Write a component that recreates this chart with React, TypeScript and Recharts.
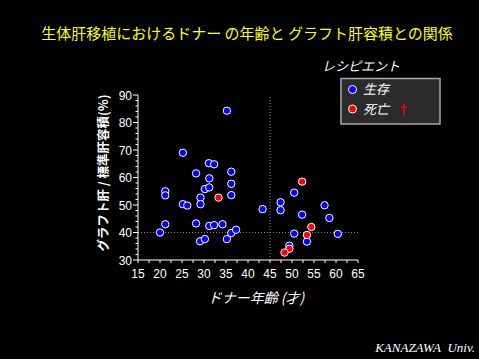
import React from 'react';
import { ScatterChart, Scatter, XAxis, YAxis, ReferenceLine } from 'recharts';

const aliveAge = [20.0, 21.2, 21.2, 21.2, 25.2, 25.2, 26.2, 28.2, 28.2, 29.2, 29.2, 29.1, 30.2, 30.2, 31.2, 31.2, 31.1, 32.3, 31.2, 32.3, 34.2, 35.2, 35.2, 36.2, 36.2, 36.2, 36.2, 37.3, 43.3, 47.4, 47.4, 50.5, 52.3, 57.4, 58.5, 50.5, 53.4, 49.4, 60.4];
const aliveVol = [40.0, 55.0, 53.5, 43.0, 69.0, 50.3, 49.8, 61.5, 43.3, 52.7, 50.3, 36.8, 37.6, 55.8, 56.4, 59.7, 65.2, 64.8, 42.4, 42.7, 43.0, 84.3, 37.6, 62.1, 57.7, 53.6, 39.8, 41.0, 48.5, 51.0, 48.1, 54.5, 46.5, 49.9, 45.3, 39.6, 36.7, 35.2, 39.5];
const deadAge = [33.3, 52.3, 54.4, 53.4, 49.4, 48.3];
const deadVol = [52.7, 58.5, 42.0, 39.1, 34.1, 32.7];

const xTicks = [15, 17.5, 20, 22.5, 25, 27.5, 30, 32.5, 35, 37.5, 40, 42.5, 45, 47.5, 50, 52.5, 55, 57.5, 60, 62.5, 65];
const yTicks = [30, 32, 34, 36, 38, 40, 42, 44, 46, 48, 50, 52, 54, 56, 58, 60, 62, 64, 66, 68, 70, 72, 74, 76, 78, 80, 82, 84, 86, 88, 90];
const xMajor = [15, 20, 25, 30, 35, 40, 45, 50, 55, 60, 65];
const yMajor = [30, 40, 50, 60, 70, 80, 90];

const title = '生体肝移植におけるドナー の年齢と グラフト肝容積との関係';
const xTitle = 'ドナー年齢 (才)';
const yTitle = 'グラフト肝 / 標準肝容積(%)';
const legendTitle = 'レシピエント';
const legendAlive = '生存';
const legendDead = '死亡';
const credit = 'KANAZAWA\u00A0\u00A0Univ.';

const aliveData = aliveAge.map((x, i) => ({ x, y: aliveVol[i] }));
const deadData = deadAge.map((x, i) => ({ x, y: deadVol[i] }));

const tickFont = '"Liberation Sans", Arial, sans-serif';
const jpFont = '"Noto Sans CJK JP", sans-serif';

const XTick = (props: any) => {
  const { x, y, payload } = props;
  const v = payload.value;
  const major = xMajor.includes(v);
  return (
    <g>
      <line x1={x} x2={x} y1={y} y2={y + 3} stroke="#fff" strokeWidth={1} />
      {major && (
        <text x={x} y={y + 18} textAnchor="middle" fill="#fff" fontSize={12} fontFamily={tickFont}>
          {v}
        </text>
      )}
    </g>
  );
};

const YTick = (props: any) => {
  const { x, y, payload } = props;
  const v = payload.value;
  const major = yMajor.includes(v);
  return (
    <g>
      <line x1={x - (major ? 5 : 2.5)} x2={x} y1={y} y2={y} stroke="#fff" strokeWidth={1} />
      {major && (
        <text x={x - 6} y={y + 4.5} textAnchor="end" fill="#fff" fontSize={12} fontFamily={tickFont}>
          {v}
        </text>
      )}
    </g>
  );
};

const dot = (color: string) => (props: any) => (
  <circle cx={props.cx} cy={props.cy} r={3.7} fill={color} stroke="#fff" strokeWidth={1} />
);

export default function App() {
  return (
    <div style={{ position: 'fixed', left: 0, top: 0, width: 479, height: 359, background: '#000', overflow: 'hidden' }}>
      <ScatterChart width={479} height={359} margin={{ top: 95, right: 121, bottom: 59, left: 98 }}>
        <XAxis
          type="number"
          dataKey="x"
          domain={[15, 65]}
          ticks={xTicks}
          interval={0}
          height={40}
          tickSize={0}
          tickMargin={0}
          tickLine={false}
          axisLine={{ stroke: '#fff', strokeWidth: 1 }}
          tick={<XTick />}
          allowDataOverflow
        />
        <YAxis
          type="number"
          dataKey="y"
          domain={[30, 90]}
          ticks={yTicks}
          interval={0}
          width={40}
          tickSize={0}
          tickMargin={0}
          tickLine={false}
          axisLine={{ stroke: '#fff', strokeWidth: 1 }}
          tick={<YTick />}
          allowDataOverflow
        />
        <ReferenceLine x={45} stroke="#8a8a8a" strokeDasharray="1 2" />
        <ReferenceLine y={40} stroke="#8a8a8a" strokeDasharray="1 2" />
        <Scatter data={aliveData} isAnimationActive={false} shape={dot('#0000ff')} />
        <Scatter data={deadData} isAnimationActive={false} shape={dot('#ff0000')} />
      </ScatterChart>
      <svg width={479} height={359} style={{ position: 'absolute', left: 0, top: 0, pointerEvents: 'none' }}>
        <text x={247} y={38.5} textAnchor="middle" fill="#ffff00" fontSize={15} fontFamily={jpFont}>
          {title}
        </text>
        <text x={361} y={71} textAnchor="middle" fill="#fff" fontSize={13} fontStyle="italic" fontFamily={jpFont}>
          {legendTitle}
        </text>
        <rect x={341} y={78.5} width={99} height={45.5} fill="#2b2b2b" stroke="#a8a8a8" strokeWidth={1.5} />
        <circle cx={352.5} cy={89.5} r={4} fill="#0000ff" stroke="#fff" strokeWidth={1} />
        <text x={363} y={94} fill="#fff" fontSize={13} fontStyle="italic" fontFamily={jpFont}>
          {legendAlive}
        </text>
        <circle cx={352.5} cy={109} r={4} fill="#ff0000" stroke="#fff" strokeWidth={1} />
        <text x={363} y={113.5} fill="#fff" fontSize={13} fontStyle="italic" fontFamily={jpFont}>
          {legendDead}
        </text>
        <text x={403.5} y={115} textAnchor="middle" fill="#ff0000" fontSize={14} fontWeight="bold" fontFamily={tickFont}>
          †
        </text>
        <text x={256} y={303} textAnchor="middle" fill="#fff" fontSize={14} fontStyle="italic" fontFamily={jpFont}>
          {xTitle}
        </text>
        <text
          x={0}
          y={0}
          transform="translate(107.5,173) rotate(-90)"
          textAnchor="middle"
          fill="#fff"
          fontSize={12.5}
          fontWeight="bold"
          fontFamily={jpFont}
        >
          {yTitle}
        </text>
        <text x={475} y={351.5} textAnchor="end" fill="#fff" fontSize={13} fontStyle="italic" fontFamily={'"Liberation Serif", serif'}>
          {credit}
        </text>
      </svg>
    </div>
  );
}
